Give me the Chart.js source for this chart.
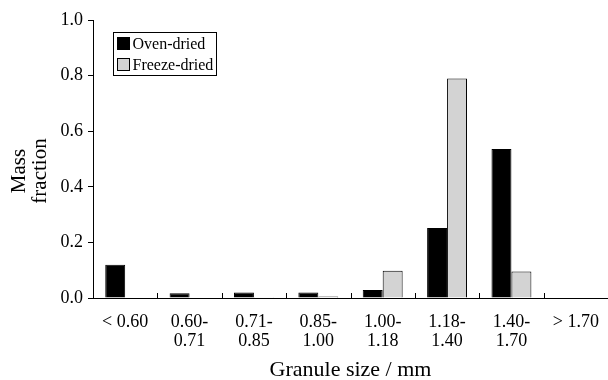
<!DOCTYPE html>
<html>
<head>
<meta charset="utf-8">
<script src="https://cdn.jsdelivr.net/npm/chart.js@4.4.0/dist/chart.umd.min.js"></script>
<style>
  html, body { margin: 0; padding: 0; background: #fff; }
  #wrap { width: 608px; height: 380px; }
</style>
</head>
<body>
<div id="wrap"><canvas id="myChart"></canvas></div>
<script>
// data
const sizeLabels = [["< 0.60"], ["0.60-", "0.71"], ["0.71-", "0.85"], ["0.85-", "1.00"],
                    ["1.00-", "1.18"], ["1.18-", "1.40"], ["1.40-", "1.70"], ["> 1.70"]];
const ovenDried = [0.12, 0.017, 0.02, 0.02, 0.029, 0.252, 0.536, 0];
const freezeDried = [0, 0.002, 0.003, 0.005, 0.098, 0.79, 0.095, 0];
const seriesNames = ["Oven-dried", "Freeze-dried"];
const yTitle = ["Mass", "fraction"];

const serif = "'Liberation Serif', 'Times New Roman', serif";

// inward tick marks between categories on the x axis
const xTicksPlugin = {
    id: "xTicks",
    afterDraw(chart) {
        const ctx = chart.ctx;
        const x = chart.scales.x;
        const bottom = chart.chartArea.bottom;
        ctx.save();
        ctx.strokeStyle = "#000";
        ctx.lineWidth = 1;
        for (let i = 1; i < sizeLabels.length; i++) {
            const px = Math.round((x.getPixelForTick(i - 1) + x.getPixelForTick(i)) / 2) + 0.5;
            ctx.beginPath();
            ctx.moveTo(px, bottom);
            ctx.lineTo(px, bottom - 5);
            ctx.stroke();
        }
        ctx.restore();
    }
};

// two-line rotated y title, sits a bit below the axis middle like the original
const yTitlePlugin = {
    id: "yTitle",
    afterDraw(chart) {
        const ctx = chart.ctx;
        const cy = (chart.chartArea.top + chart.chartArea.bottom) / 2 + 12;
        ctx.save();
        ctx.fillStyle = "#000";
        ctx.font = "21px " + serif;
        ctx.textAlign = "center";
        ctx.textBaseline = "middle";
        yTitle.forEach((line, i) => {
            ctx.save();
            ctx.translate(19 + i * 21, cy);
            ctx.rotate(-Math.PI / 2);
            ctx.fillText(line, 0, 0);
            ctx.restore();
        });
        ctx.restore();
    }
};

// boxed legend inside the plot
const boxLegend = {
    id: "boxLegend",
    afterDraw(chart) {
        const ctx = chart.ctx;
        const left = 113.5, top = 32.5, w = 103, h = 43;
        ctx.save();
        ctx.fillStyle = "#fff";
        ctx.strokeStyle = "#000";
        ctx.lineWidth = 1;
        ctx.fillRect(left, top, w, h);
        ctx.strokeRect(left, top, w, h);
        ctx.font = "16px " + serif;
        ctx.textBaseline = "middle";
        chart.data.datasets.forEach((ds, i) => {
            const cy = top + 11 + i * 21;
            ctx.fillStyle = ds.backgroundColor;
            ctx.fillRect(left + 4, cy - 6, 12, 12);
            ctx.strokeRect(left + 4, cy - 6, 12, 12);
            ctx.fillStyle = "#000";
            ctx.fillText(ds.label, left + 19, cy + 1);
        });
        ctx.restore();
    }
};

new Chart(document.getElementById("myChart"), {
    type: "bar",
    data: {
        labels: sizeLabels,
        datasets: [
            {
                label: seriesNames[0],
                data: ovenDried,
                backgroundColor: "#000000",
                borderColor: "#000000",
                borderWidth: 1
            },
            {
                label: seriesNames[1],
                data: freezeDried,
                backgroundColor: "#d3d3d3",
                borderColor: "#000000",
                borderWidth: 1
            }
        ]
    },
    options: {
        responsive: true,
        maintainAspectRatio: false,
        animation: false,
        layout: { padding: { top: 20, right: 0, left: 0, bottom: 0 } },
        datasets: {
            bar: { categoryPercentage: 0.62, barPercentage: 1.0 }
        },
        plugins: {
            legend: { display: false },
            tooltip: { enabled: false }
        },
        scales: {
            x: {
                grid: { display: false },
                border: { color: "#000", width: 1 },
                ticks: {
                    color: "#000",
                    font: { family: serif, size: 18, lineHeight: 1.1 },
                    padding: 6,
                    maxRotation: 0,
                    autoSkip: false
                },
                title: {
                    display: true,
                    text: "Granule size / mm",
                    color: "#000",
                    font: { family: serif, size: 22 },
                    padding: { top: 4, bottom: -3 }
                },
                afterFit(scale) { scale.height = 82; }
            },
            y: {
                min: 0,
                max: 1.0,
                grid: { drawOnChartArea: false, tickLength: 5, color: "#000" },
                border: { color: "#000", width: 1 },
                ticks: {
                    stepSize: 0.2,
                    color: "#000",
                    font: { family: serif, size: 18 },
                    padding: 5,
                    callback: v => v.toFixed(1)
                },
                afterFit(scale) { scale.width = 93; }
            }
        }
    },
    plugins: [xTicksPlugin, yTitlePlugin, boxLegend]
});
</script>
</body>
</html>
